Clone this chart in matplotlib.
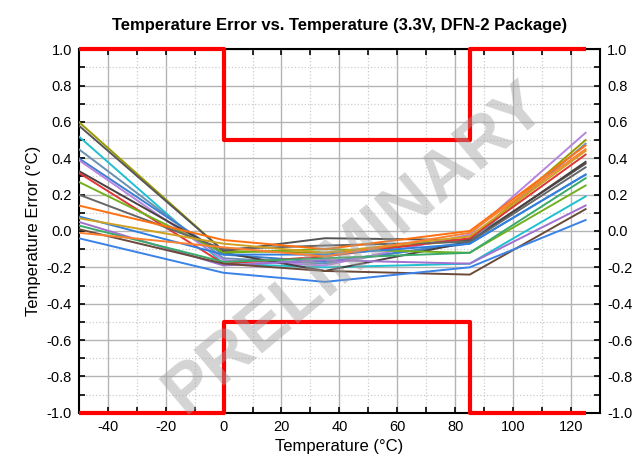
import matplotlib
matplotlib.use('Agg')
import matplotlib.pyplot as plt
from matplotlib.ticker import MultipleLocator, FormatStrFormatter

plt.rcParams['font.family'] = ['Liberation Sans', 'DejaVu Sans']
plt.rcParams['axes.unicode_minus'] = False

# measurement temperatures
temps = [-50, 0, 35, 85, 125]

# error curves of the individual units
err_olive = [0.60, -0.11, -0.12, -0.05, 0.50]
err_dgray = [0.58, -0.11, -0.04, -0.05, 0.37]
err_cyan = [0.52, -0.18, -0.20, -0.18, 0.19]
err_steel = [0.45, -0.15, -0.18, -0.06, 0.48]
err_mblue = [0.40, -0.13, -0.17, -0.07, 0.31]
err_lilac = [0.39, -0.16, -0.19, -0.02, 0.54]
err_dark = [0.33, -0.12, -0.22, -0.06, 0.38]
err_red = [0.32, -0.18, -0.14, -0.04, 0.42]
err_ygreen = [0.27, -0.12, -0.10, -0.12, 0.25]
err_gray = [0.20, -0.10, -0.08, -0.06, 0.35]
err_orange = [0.14, -0.05, -0.10, 0.00, 0.47]
err_blue = [0.08, -0.13, -0.13, -0.07, 0.31]
err_gold = [0.07, -0.07, -0.12, -0.03, 0.44]
err_purple = [0.05, -0.19, -0.16, -0.18, 0.14]
err_sgreen = [0.03, -0.17, -0.15, -0.12, 0.29]
err_brown = [0.01, -0.18, -0.22, -0.24, 0.12]
err_orange2 = [-0.01, -0.09, -0.14, -0.01, 0.45]
err_blue2 = [-0.04, -0.23, -0.28, -0.20, 0.06]

curves = [
	(err_olive, '#9a9a00'), (err_dgray, '#555555'), (err_cyan, '#1fc0d0'),
	(err_steel, '#6a90b0'), (err_mblue, '#3f7fd0'), (err_lilac, '#b585e0'),
	(err_dark, '#4a4040'), (err_red, '#e03535'), (err_ygreen, '#72b01c'),
	(err_gray, '#666666'), (err_orange, '#ff7010'), (err_blue, '#3080e0'),
	(err_gold, '#d0a020'), (err_purple, '#a070d0'), (err_sgreen, '#3aaa6a'),
	(err_brown, '#6b4a3a'), (err_orange2, '#ff8030'), (err_blue2, '#3a82e8'),
]

# spec limits
lim_x = [-50, 0, 0, 85, 85, 125]
lim_hi = [1.0, 1.0, 0.5, 0.5, 1.0, 1.0]
lim_lo = [-1.0, -1.0, -0.5, -0.5, -1.0, -1.0]

fig = plt.figure(figsize=(6.35, 4.68), dpi=100)
ax = fig.add_axes([0.124, 0.118, 0.821, 0.777])

for vals, c in curves:
	ax.plot(temps, vals, color=c, lw=1.4, zorder=3)

ax.plot(lim_x, lim_hi, color='#ff0000', lw=3, zorder=4, clip_on=False, solid_capstyle='butt')
ax.plot(lim_x, lim_lo, color='#ff0000', lw=3, zorder=4, clip_on=False, solid_capstyle='butt')

ax.set_xlim(-50, 130)
ax.set_ylim(-1.0, 1.0)
ax.xaxis.set_major_locator(MultipleLocator(20))
ax.xaxis.set_minor_locator(MultipleLocator(10))
ax.yaxis.set_major_locator(MultipleLocator(0.2))
ax.yaxis.set_minor_locator(MultipleLocator(0.1))
ax.yaxis.set_major_formatter(FormatStrFormatter('%.1f'))
ax.set_xticks(range(-40, 121, 20))

ax.grid(which='major', color='#b4b4b4', lw=1.0, ls='-')
ax.grid(which='minor', color='#cccccc', lw=0.9, ls=':')
ax.set_axisbelow(True)

ax.tick_params(which='both', direction='in', top=True, right=True,
	labelright=True, labelsize=10.5, width=1.2, pad=5)
ax.tick_params(which='major', length=4)
ax.tick_params(which='minor', length=4)
for s in ax.spines.values():
	s.set_linewidth(1.5)

ax.set_title('Temperature Error vs. Temperature (3.3V, DFN-2 Package)',
	fontsize=12, fontweight='bold', pad=14)
ax.set_xlabel('Temperature (°C)', fontsize=12, labelpad=4)
ax.set_ylabel('Temperature Error (°C)', fontsize=12, labelpad=4)

# preliminary watermark
fig.text(0.56, 0.47, 'PRELIMINARY', fontsize=50, color='#a0a0a0', alpha=0.45,
	rotation=40, ha='center', va='center', fontweight='bold', zorder=10)

plt.savefig('out.png', dpi=100)
